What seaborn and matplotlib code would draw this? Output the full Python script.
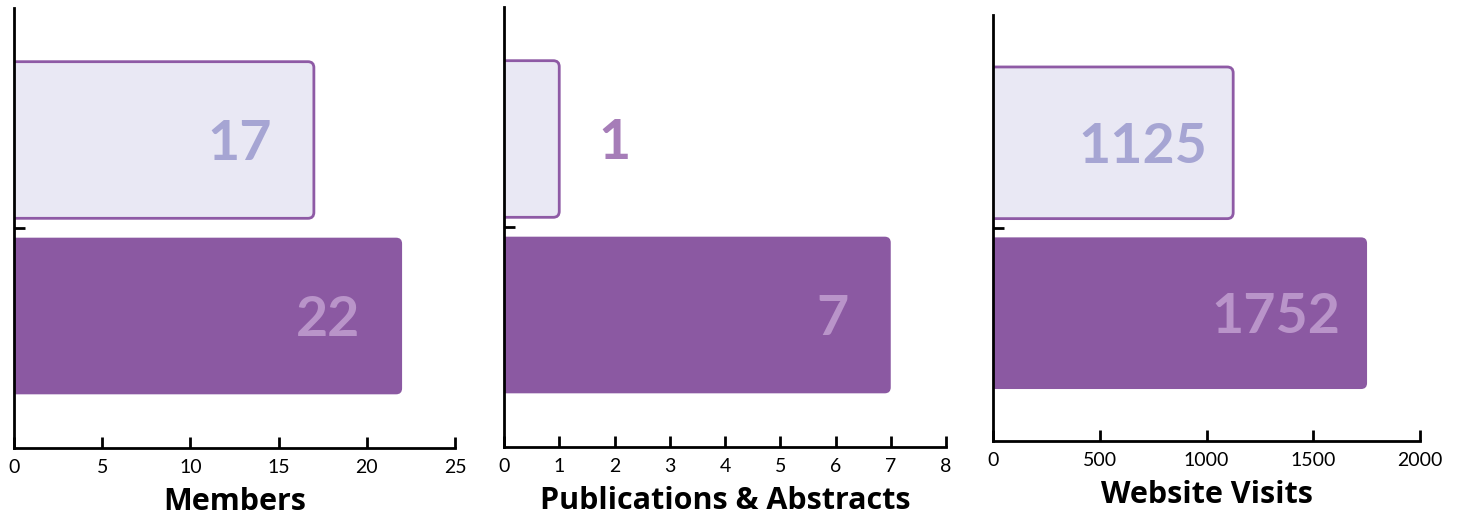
import matplotlib
matplotlib.use("Agg")
import matplotlib.pyplot as plt
import seaborn as sns
from matplotlib.patches import FancyBboxPatch

# ---- data ----
categories = ["Previous", "Current"]
members = [17, 22]
publications = [1, 7]
visits = [1125, 1752]
panel_titles = ["Members", "Publications & Abstracts", "Website Visits"]
xlims = [25, 8, 2000]
xticks = [[0, 5, 10, 15, 20, 25], [0, 1, 2, 3, 4, 5, 6, 7, 8], [0, 500, 1000, 1500, 2000]]

LIGHT_FILL = "#e9e8f4"
EDGE = "#8e5aa5"
DARK = "#8b59a2"
LIGHT_TXT = "#a6a5d3"
DARK_TXT = "#b994c9"
OUT_TXT = "#a67db8"

sns.set_theme(style="white")
plt.rcParams["font.family"] = ["Lato", "DejaVu Sans"]

fig = plt.figure(figsize=(14.65, 5.16), dpi=100)
W, H = 1465, 516
# panel boxes in pixels: left, top, right, bottom
boxes = [(14, 8, 455, 448), (504, 7, 946, 447), (993, 15, 1420, 441)]
series = [members, publications, visits]

for (l, t, r, b), vals, title, xl, xt in zip(boxes, series, panel_titles, xlims, xticks):
    ax = fig.add_axes([l / W, 1 - b / H, (r - l) / W, (b - t) / H])
    sns.barplot(x=vals, y=categories, hue=categories, palette=[LIGHT_FILL, DARK],
                orient="h", legend=False, width=0.89, ax=ax, saturation=1)
    ax.set_xlim(0, xl)
    ax.set_ylim(1.75, -0.75)

    # rounded corners
    axw, axh = r - l, b - t
    xpp = xl / axw
    ypp = 2.5 / axh
    rad_px = 6
    rx = rad_px * xpp
    patches = list(ax.patches)
    for i, p in enumerate(patches):
        x0, y0 = p.get_x(), p.get_y()
        w, h = p.get_width(), p.get_height()
        p.remove()
        if i == 0:
            fc, ec, lw = LIGHT_FILL, EDGE, 2.0
        else:
            fc, ec, lw = DARK, DARK, 0.0
        fb = FancyBboxPatch((x0 - rx * 2, y0), w + rx * 2, h,
                            boxstyle=f"round,pad=0,rounding_size={rx}",
                            mutation_aspect=ypp / xpp,
                            facecolor=fc, edgecolor=ec, linewidth=lw, zorder=2)
        ax.add_patch(fb)

    # value labels
    for i, v in enumerate(vals):
        if v / xl < 0.25:
            ax.annotate(str(v), (v, i), xytext=(28, -3), textcoords="offset points",
                        ha="left", va="center", fontsize=40, fontweight="bold",
                        color=OUT_TXT, zorder=3)
        else:
            off = -19 if xl > 100 else -30
            ax.annotate(str(v), (v, i), xytext=(off, -3), textcoords="offset points",
                        ha="right", va="center", fontsize=40, fontweight="bold",
                        color=LIGHT_TXT if i == 0 else DARK_TXT, zorder=3)

    for s in ["top", "right"]:
        ax.spines[s].set_visible(False)
    for s in ["left", "bottom"]:
        ax.spines[s].set_color("black")
        ax.spines[s].set_linewidth(2.0)
        ax.spines[s].set_zorder(4)
    ax.set_xticks(xt)
    ax.set_xticklabels([str(v) for v in xt])
    ax.set_yticks([0.5])
    ax.set_yticklabels([""])
    ax.tick_params(axis="x", bottom=True, direction="in", length=8, width=2, color="black",
                   labelsize=14, pad=8, labelcolor="black")
    ax.tick_params(axis="y", left=True, direction="in", length=8, width=2, color="black")
    ax.set_ylabel("")
    ax.set_xlabel(title, fontsize=22, fontweight="bold", color="black", labelpad=7.5,
                  family=["Open Sans", "DejaVu Sans"])
    ax.set_facecolor("white")

fig.savefig("out.png", dpi=100, facecolor="white")
